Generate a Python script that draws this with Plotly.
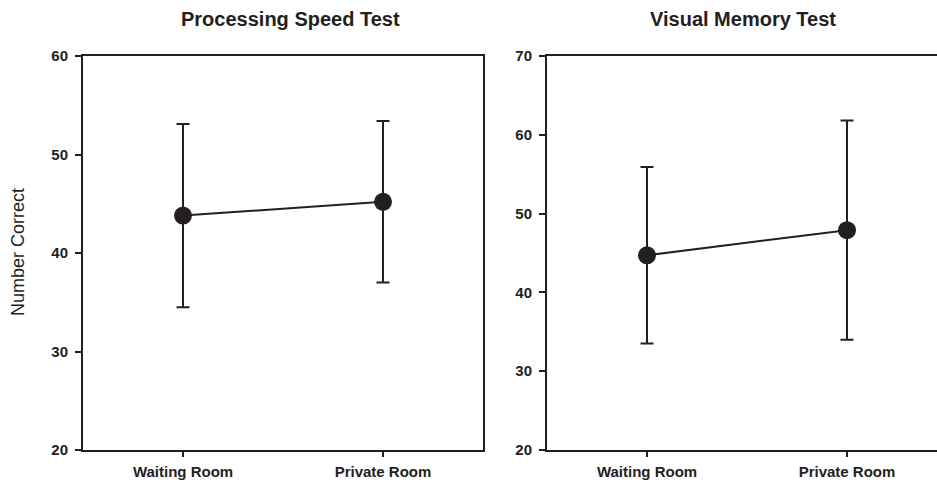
import plotly.graph_objects as go

categories = ["Waiting Room", "Private Room"]
speed_mean = [43.8, 45.2]
speed_upper = [53.1, 53.4]
speed_lower = [34.5, 37.0]
memory_mean = [44.7, 47.9]
memory_upper = [55.9, 61.8]
memory_lower = [33.5, 34.0]
speed_ticks = [20, 30, 40, 50, 60]
memory_ticks = [20, 30, 40, 50, 60, 70]

C = "#231f20"
W, H = 937, 482
FONT = "Liberation Sans, Arial"

def px(x):
    return x / W

def py(y):
    return 1 - y / H

fig = go.Figure()

def add(mean, up, lo, xa, ya):
    fig.add_trace(go.Scatter(
        x=[0, 1], y=mean, mode="lines+markers",
        line=dict(color=C, width=2),
        marker=dict(color=C, size=18),
        error_y=dict(type="data", symmetric=False,
                     array=[u - m for u, m in zip(up, mean)],
                     arrayminus=[m - l for m, l in zip(mean, lo)],
                     color=C, thickness=2, width=6.5),
        xaxis=xa, yaxis=ya, showlegend=False, hoverinfo="skip"))

add(speed_mean, speed_upper, speed_lower, "x", "y")
add(memory_mean, memory_upper, memory_lower, "x2", "y2")

ydom = [py(450), py(56)]
axfont = dict(family=FONT, size=15, color=C, weight="bold")
common_x = dict(tickmode="array", tickvals=[0, 1], ticktext=categories,
                showline=True, linecolor=C, linewidth=2, mirror=True,
                ticks="outside", ticklen=5, tickwidth=2, tickcolor=C,
                ticklabelstandoff=2,
                showgrid=False, zeroline=False, tickfont=axfont)
common_y = dict(showline=True, linecolor=C, linewidth=2,
                ticks="outside", ticklen=6, tickwidth=2, tickcolor=C,
                ticklabelstandoff=4,
                showgrid=False, zeroline=False, tickfont=axfont)

fig.update_layout(
    width=W, height=H,
    margin=dict(l=0, r=0, t=0, b=0, autoexpand=False),
    plot_bgcolor="white", paper_bgcolor="white",
    xaxis=dict(domain=[px(83), px(483)], range=[-0.5, 1.5], **common_x),
    xaxis2=dict(domain=[px(547), 1], range=[-0.5, 1.45], anchor="y2", **common_x),
    yaxis=dict(domain=ydom, range=[20, 60], tickvals=speed_ticks, mirror=True, **common_y),
    yaxis2=dict(domain=ydom, range=[20, 70], tickvals=memory_ticks, anchor="x2", mirror=False, **common_y),
    annotations=[
        dict(text="Processing Speed Test", x=px(290), y=py(19), xref="paper", yref="paper",
             xanchor="center", yanchor="middle",
             showarrow=False, font=dict(family=FONT, size=20, color=C, weight="bold")),
        dict(text="Visual Memory Test", x=px(743), y=py(19), xref="paper", yref="paper",
             xanchor="center", yanchor="middle",
             showarrow=False, font=dict(family=FONT, size=20, color=C, weight="bold")),
        dict(text="Number Correct", x=px(18), y=py(252), xref="paper", yref="paper",
             xanchor="center", yanchor="middle",
             textangle=-90, showarrow=False,
             font=dict(family=FONT, size=18, color=C)),
    ],
)

fig.write_html("out.html", config={"displayModeBar": False},
               post_script="document.body.style.margin='0';")
